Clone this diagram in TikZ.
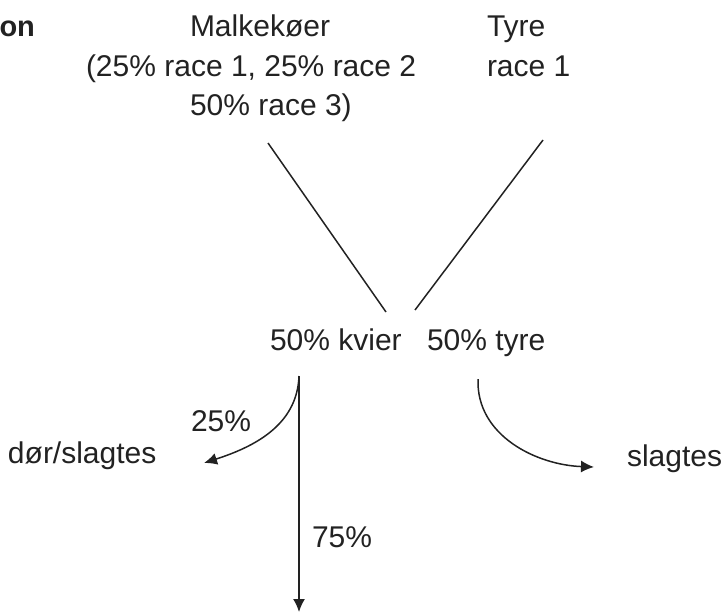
\documentclass[tikz,border=0pt]{standalone}
\usepackage{fontspec}
\setmainfont{Liberation Sans}
\usetikzlibrary{arrows.meta}
\definecolor{ink}{HTML}{222222}
\begin{document}
\begin{tikzpicture}[x=1pt,y=-1pt,
  txt/.style={inner sep=0pt, outer sep=0pt, font=\fontsize{30}{36}\selectfont, text=ink, anchor=base west},
  ln/.style={draw=ink, line width=1.5pt},
  arr/.style={ln, -{Latex[length=13pt,width=12pt]}}]
\useasboundingbox (0,0) rectangle (728,613);
% top texts
\node[txt, font=\fontsize{29}{36}\selectfont\bfseries] (on) at (-0.5,36) {on};
\node[txt] (cowsA) at (190,36) {Malkekøer};
\node[txt] (cowsB) at (86,76) {(25\% race 1, 25\% race 2};
\node[txt] (cowsC) at (190,115) {50\% race 3)};
\node[txt] (bullA) at (487,36) {Tyre};
\node[txt] (bullB) at (487,76) {race 1};
% middle
\node[txt] (heifers) at (270,350) {50\% kvier};
\node[txt] (bulls) at (427,350) {50\% tyre};
% bottom
\node[txt] (p25) at (191,431) {25\%};
\node[txt] (dies) at (8,463) {dør/slagtes};
\node[txt] (slaughter) at (627,466) {slagtes};
\node[txt] (p75) at (312,547) {75\%};
% connector points
\coordinate (cowsEnd) at (268,143);
\coordinate (bullEnd) at (543,140);
\coordinate (meetL) at (386,312);
\coordinate (meetR) at (415,310);
\coordinate (splitTop) at (299,376);
\coordinate (downTip) at (299,612);
\coordinate (leftTip) at (204,463);
\coordinate (bullTop) at (478,379);
\coordinate (rightTip) at (594,467);
% connectors
\draw[ln] (cowsEnd) -- (meetL);
\draw[ln] (bullEnd) -- (meetR);
\draw[arr] (splitTop) -- (downTip);
\draw[arr] (splitTop) to[out=-92, in=18] (leftTip);
\draw[arr] (bullTop) to[out=-92, in=178] (rightTip);
\end{tikzpicture}
\end{document}
